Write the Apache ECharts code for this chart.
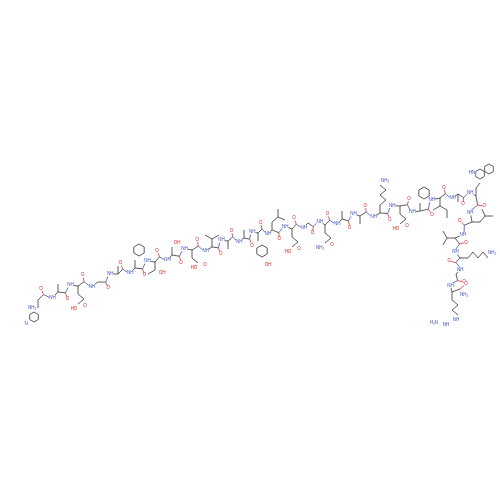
<!DOCTYPE html>
<html><head><meta charset="utf-8">
<script src="https://cdn.jsdelivr.net/npm/echarts@6/dist/echarts.min.js"></script>
<style>html,body{margin:0;background:#fff}#c{width:500px;height:500px}</style>
</head><body><div id="c"></div>
<script>
// residue names and alpha-carbon positions
var residues = ['His','Ala','Glu','Gly','Ala','Phe','Thr','Ser','Asp','Val','Ala','Ala','Tyr','Leu','Glu','Gly','Gln','Ala','Ala','Lys','Glu','Phe','Ile','Ala','Trp','Leu','Val','Lys','Gly','Arg'];
var caX = [38,58,78,98,118,135,155,172,192,212,228,244,258,272,292,308,325,342,360,380,400,420,440,458,476,472,455,460,456,452];
var caY = [300,292,286,282,274,268,262,255,250,247,241,238,233,230,229,223,225,219,216,213,206,211,198,194,196,222,238,258,274,292];
// side chain direction: 'U' up, 'D' down, 'R' right, 'L' left, '' none
var sideDir = ['D','U','D','','U','U','D','U','D','U','D','U','D','U','D','','D','U','D','U','D','U','D','D','U','R','L','R','','D'];

var bonds = [], atoms = [], xf = null;
function tr(p){return xf?xf(p):p;}
function bond(a,b,col){a=tr(a);b=tr(b);bonds.push([a[0],a[1],b[0],b[1],col||'#333']);}
function atom(p,t,col){p=tr(p);atoms.push([p[0],p[1],t,col]);}
function ring(cx,cy,r){var pts=[];for(var k=0;k<6;k++){var a=Math.PI/6+k*Math.PI/3;pts.push([cx+r*Math.cos(a),cy+r*Math.sin(a)]);}
  for(var k=0;k<6;k++)bond(pts[k],pts[(k+1)%6]);return pts;}

for (var i=0;i<residues.length;i++){
  var ca=[caX[i],caY[i]], name=residues[i];
  xf=null;
  if(i<residues.length-1){
    var nx=caX[i+1],ny=caY[i+1],dx=nx-ca[0],dy=ny-ca[1];
    var len=Math.sqrt(dx*dx+dy*dy),px=-dy/len,py=dx/len,s=(i%2?1:-1)*3;
    var c=[ca[0]+dx/3+px*s,ca[1]+dy/3+py*s], n=[ca[0]+2*dx/3-px*s,ca[1]+2*dy/3-py*s];
    bond(ca,c);bond(c,[n[0]-dx/12,n[1]-dy/12],'#3a4fc0');bond(n,[ca[0]+dx,ca[1]+dy]);
    var o=[c[0]+px*s*2.2,c[1]+py*s*2.2];bond(c,o,'#e03030');atom(o,'O','#e02020');
    atom(n,'NH','#3a4fc0');
  } else {
    var c=[ca[0]+8,ca[1]-3];bond(ca,c);var o=[c[0]+6,c[1]-5];bond(c,o,'#e03030');atom(o,'O','#e02020');
    atom([c[0]+4,c[1]+6],'NH₂','#3a4fc0');
  }
  if(i===0){atom([ca[0]-6,ca[1]+8],'NH₂','#3a4fc0');}
  var sd=sideDir[i];
  if(!sd)continue;
  // side chain drawn in a local frame pointing "down" (d=1) around ca, then rotated
  var d=1,ox=ca[0],oy=ca[1];
  xf=(function(sd,ox,oy){return function(p){var x=p[0]-ox,y=p[1]-oy;
    if(sd==='U')return [ox+x,oy-y]; if(sd==='R')return [ox+y,oy-x]; if(sd==='L')return [ox-y,oy+x]; return [ox+x,oy+y];};})(sd,ox,oy);
  var b=[ca[0],ca[1]+8*d];bond(ca,b);
  if(name==='Ala'){continue;}
  if(name==='Phe'||name==='Tyr'){ring(b[0]+4,b[1]+10*d,6);if(name==='Tyr'){atom([b[0]+10,b[1]+24*d],'OH','#e02020');}continue;}
  if(name==='His'){ring(b[0]-4,b[1]+9*d,5);atom([b[0]-12,b[1]+16*d],'N','#3a4fc0');continue;}
  if(name==='Trp'){var e=[b[0]+4,b[1]+5];bond(b,e);ring(e[0],e[1]+9,5);ring(e[0]+9,e[1]+14,5);atom([e[0]-8,e[1]+10],'HN','#3a4fc0');continue;}
  if(name==='Ser'){atom([b[0]+5,b[1]+4*d],'OH','#e02020');continue;}
  if(name==='Thr'||name==='Val'||name==='Ile'){bond(b,[b[0]-7,b[1]+4*d]);
    if(name==='Thr')atom([b[0]+7,b[1]+3*d],'OH','#e02020');else bond(b,[b[0]+7,b[1]+4*d]);
    if(name==='Ile')bond([b[0]+7,b[1]+4*d],[b[0]+7,b[1]+12*d]);continue;}
  if(name==='Leu'){var e=[b[0]+6,b[1]+5*d];bond(b,e);bond(e,[e[0],e[1]+8*d]);bond(e,[e[0]+7,e[1]-3*d]);continue;}
  var L={Glu:2,Asp:1,Gln:2,Lys:4,Arg:3}[name],p=b;
  for(var k=0;k<L;k++){var q=[p[0]+(k%2?-6:6),p[1]+5*d];bond(p,q);p=q;}
  if(name==='Glu'||name==='Asp'){atom([p[0]-4,p[1]+5*d],'HO','#e02020');atom([p[0]+7,p[1]+2*d],'O','#e02020');}
  if(name==='Gln'){atom([p[0]+7,p[1]+2*d],'O','#e02020');atom([p[0]-5,p[1]+5*d],'NH₂','#3a4fc0');}
  if(name==='Lys'){atom([p[0]+5,p[1]+4*d],'NH₂','#3a4fc0');}
  if(name==='Arg'){atom([p[0]-2,p[1]+5*d],'NH','#3a4fc0');atom([p[0]-12,p[1]+10*d],'NH','#3a4fc0');atom([p[0]-24,p[1]+8*d],'H₂N','#3a4fc0');}
}

var chart = echarts.init(document.getElementById('c'));
chart.setOption({
  animation:false,
  grid:{left:0,right:0,top:0,bottom:0},
  xAxis:{type:'value',min:0,max:500,show:false},
  yAxis:{type:'value',min:0,max:500,inverse:true,show:false},
  series:[{
    type:'custom',data:bonds,
    renderItem:function(p,api){var a=api.coord([api.value(0),api.value(1)]),b=api.coord([api.value(2),api.value(3)]);
      return {type:'line',shape:{x1:a[0],y1:a[1],x2:b[0],y2:b[1]},style:{stroke:bonds[p.dataIndex][4],lineWidth:0.8}};}
  },{
    type:'custom',data:atoms,
    renderItem:function(p,api){var a=api.coord([api.value(0),api.value(1)]),t=atoms[p.dataIndex];
      return {type:'text',x:a[0],y:a[1],style:{text:t[2],fill:t[3],font:'4.5px sans-serif',align:'center',verticalAlign:'middle',backgroundColor:'#fff'}};}
  }]
});
</script></body></html>
